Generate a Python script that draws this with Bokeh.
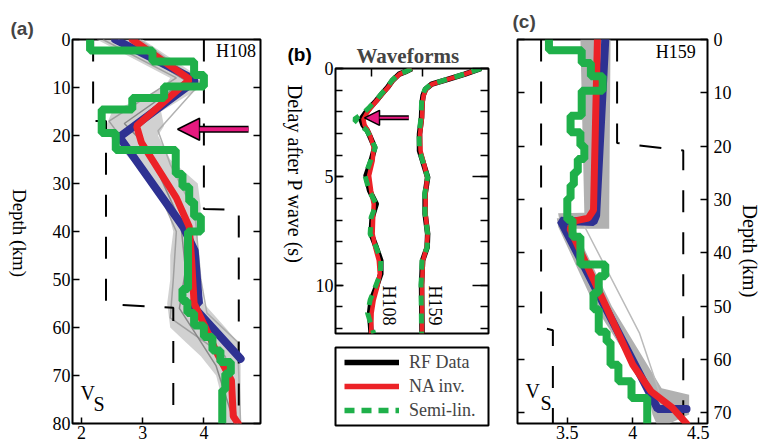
import math
from bokeh.plotting import figure
from bokeh.layouts import row, column
from bokeh.models import (Range1d, FixedTicker, SingleIntervalTicker, LinearAxis,
                          Label, Arrow, NormalHead, Legend, LegendItem)
from bokeh.embed import file_html
from bokeh.resources import INLINE

SERIF = "Liberation Serif"
SANS = "Liberation Sans"
BLUE = "#2e3192"
RED = "#ec2227"
GREEN = "#1fb04a"
MAGENTA = "#e6197f"

# ---------------- panel (a) : H108 ----------------
a_blue_v = [2.55, 3.87, 2.62, 3.67, 3.85, 3.92, 3.78, 4.60]
a_blue_d = [0, 8.5, 20.3, 39.2, 44, 55, 55, 66.5]
a_red_v = [2.83, 3.77, 2.90, 2.98, 3.55, 3.76, 3.80, 3.84, 4.05, 4.22, 4.45, 4.48, 4.56]
a_red_d = [0, 8.3, 18, 21.5, 33, 39, 46, 55, 60.7, 65.5, 71, 78.5, 80]
a_semi_v = [2.14, 3.16, 3.84, 4.00, 3.35, 2.83, 2.33, 2.56, 3.54, 3.65, 3.76, 3.84, 3.95,
            3.74, 3.65, 3.73, 3.84, 4.00, 4.14, 4.27, 4.44, 4.35, 4.30]
a_semi_top = [0, 2.3, 4.6, 7.4, 9.8, 12.2, 14.6, 19.5, 23.0, 28.0, 30.7, 33.8, 36.9,
              40.0, 52.0, 54.5, 57.0, 59.6, 62.0, 64.8, 67.2, 69.6, 73.0]
a_env_d = [0, 8, 10, 15, 18, 20, 25, 30, 35, 40, 45, 50, 55, 60, 63, 66, 70, 75, 80]
a_env_lo = [2.25, 3.45, 3.35, 2.5, 2.4, 2.45, 2.8, 3.15, 3.4, 3.5, 3.45, 3.45, 3.4, 3.45, 3.7, 3.95, 4.2, 4.3, 4.35]
a_env_hi = [3.0, 3.95, 3.95, 3.3, 3.35, 3.25, 3.45, 3.9, 3.95, 3.9, 3.9, 3.9, 4.0, 4.35, 4.55, 4.6, 4.6, 4.6, 4.6]
a_g1_v = [2.35, 3.55, 2.45, 3.20, 3.55, 3.50, 3.45, 4.35, 4.55]
a_g1_d = [0, 8, 17, 30, 40, 50, 58, 66, 80]
a_g2_v = [2.95, 3.95, 3.25, 3.45, 3.85, 3.95, 4.05, 4.55, 4.60]
a_g2_d = [0, 9, 19, 26, 36, 50, 57, 63, 80]
a_g3_v = [2.60, 3.70, 2.70, 3.05, 3.62, 3.70, 3.60, 4.20, 4.50]
a_g3_d = [0, 8.5, 17.5, 22, 38, 48, 56, 68, 80]
a_lo_v = [2.19, 2.19, 2.40, 2.40, 3.50, 3.50]
a_lo_d = [0, 17, 17, 55.1, 55.9, 80]
a_hi_v = [4.00, 4.00, 4.57, 4.57]
a_hi_d = [0, 35.3, 35.5, 80]
a_arrow = [4.73, 3.57, 18.7]          # tail v, tip v, depth

# ---------------- panel (b) : waveforms ----------------
t108 = [0.0, 0.12, 0.26, 0.55, 0.88, 1.2, 1.49, 1.8, 2.05, 2.35, 2.6, 2.85, 3.1, 3.65, 4.26,
        4.95, 5.64, 6.26, 6.88, 7.64, 8.26, 8.87, 9.49, 10.1, 10.7, 11.3, 12.24]
rf108 = [0.80, 0.70, 0.55, 0.42, 0.32, 0.20, 0.10, -0.02, -0.11, -0.20, -0.16, -0.08, -0.03, 0.07, 0.0,
         -0.10, -0.03, 0.10, 0.02, 0.0, 0.10, 0.19, 0.19, 0.10, 0.0, -0.03, 0.0]
na108 = [0.80, 0.70, 0.56, 0.43, 0.33, 0.21, 0.11, 0.0, -0.08, -0.15, -0.13, -0.07, -0.02, 0.05, 0.03,
         -0.04, 0.0, 0.05, 0.04, 0.03, 0.08, 0.15, 0.17, 0.12, 0.05, 0.01, 0.0]
sl108 = [0.79, 0.70, 0.54, 0.41, 0.31, 0.19, 0.09, -0.04, -0.15, -0.33, -0.22, -0.09, -0.03, 0.08, -0.01,
         -0.12, -0.04, 0.10, 0.0, -0.02, 0.10, 0.19, 0.18, 0.08, -0.02, -0.07, 0.05]
t159 = [0.0, 0.26, 0.49, 0.72, 0.95, 1.25, 1.6, 2.26, 3.03, 3.8, 4.41, 5.03, 5.8, 6.72, 7.64, 8.26,
        8.87, 10.0, 12.24]
rf159 = [1.16, 0.84, 0.52, 0.19, 0.07, 0.02, 0.0, -0.01, -0.05, -0.05, 0.03, 0.11, 0.06, 0.06, 0.11,
         0.10, 0.01, -0.01, 0.0]
na159 = [1.15, 0.84, 0.52, 0.20, 0.08, 0.03, 0.01, 0.0, -0.04, -0.03, 0.04, 0.10, 0.07, 0.07, 0.11,
         0.09, 0.02, 0.0, 0.0]
sl159 = [1.16, 0.83, 0.51, 0.18, 0.06, 0.01, -0.01, -0.02, -0.06, -0.05, 0.03, 0.11, 0.05, 0.06, 0.11,
         0.10, 0.0, -0.02, -0.01]
trace_offsets = [0.0, 1.0]
trace_names = ["H108", "H159"]
b_arrow = [0.74, -0.13, 2.28]
legend_labels = ["RF Data", "NA inv.", "Semi-lin."]

# ---------------- panel (c) : H159 ----------------
c_blue_v = [3.79, 3.72, 3.70, 3.45, 4.17, 4.19, 4.41]
c_blue_d = [0, 33.0, 34.2, 34.0, 68.3, 69.3, 69.3]
c_red_v = [3.73, 3.70, 3.66, 3.56, 3.52, 3.77, 4.00, 4.14, 4.30, 4.41]
c_red_d = [0, 32.0, 33.5, 34.0, 35.5, 48.7, 61.0, 66.0, 69.0, 72.0]
c_semi_v = [3.36, 3.61, 3.68, 3.77, 3.61, 3.525, 3.60, 3.63, 3.58, 3.55, 3.525, 3.50, 3.54,
            3.60, 3.79, 3.74, 3.70, 3.74, 3.80, 3.83, 3.89, 3.99, 4.11]
c_semi_top = [0, 2.0, 4.4, 6.9, 9.6, 14.3, 17.4, 19.9, 22.4, 24.9, 27.3, 29.8, 33.8,
              37.0, 42.2, 44.4, 47.5, 50.6, 54.8, 56.7, 61.0, 64.1, 67.2]
c_up_d = [0, 32.5, 32.6, 35.5]
c_up_lo = [3.60, 3.63, 3.43, 3.45]
c_up_hi = [3.83, 3.82, 3.82, 3.82]
c_dn_d = [33.5, 35.1, 50, 65.4, 66.6, 70.3, 72]
c_dn_lo = [3.42, 3.43, 3.71, 4.11, 4.12, 4.15, 4.18]
c_dn_hi = [3.52, 3.55, 3.84, 4.22, 4.43, 4.43, 4.28]
c_g1_v = [3.62, 4.05, 4.20]
c_g1_d = [34.5, 55, 66]
c_lo_v = [3.30, 3.30, 3.39, 3.39]
c_lo_d = [0, 54.0, 54.5, 72]
c_hi_v = [3.88, 3.88, 4.385, 4.385]
c_hi_d = [0, 19.4, 20.8, 72]


def step_path(vals, tops, bottom):
    xs, ys = [], []
    for i, v in enumerate(vals):
        bot = tops[i + 1] if i + 1 < len(tops) else bottom
        xs += [v, v]
        ys += [tops[i], bot]
    return xs, ys


def style_axis(ax, labels=True, tick_in=7, minor_in=0):
    ax.axis_line_color = None
    ax.major_tick_in = tick_in
    ax.major_tick_out = 0
    ax.minor_tick_in = minor_in
    ax.minor_tick_out = 0
    ax.major_tick_line_width = 1.5
    ax.minor_tick_line_width = 1.5
    ax.major_tick_line_color = "black"
    ax.minor_tick_line_color = "black" if minor_in else None
    ax.major_label_text_font = SERIF
    ax.major_label_text_color = "black"
    if labels:
        ax.major_label_text_font_size = "18px"
        ax.major_label_standoff = 2
    else:
        ax.major_label_text_font_size = "1px"
        ax.major_label_text_alpha = 0
        ax.major_label_standoff = 0


def frame_style(p):
    p.outline_line_color = "black"
    p.outline_line_width = 2
    p.outline_line_alpha = 1
    p.xgrid.visible = False
    p.ygrid.visible = False
    p.background_fill_color = "white"
    p.border_fill_color = "white"


def add_label(p, x, y, text, size="19px", font=SERIF, style="normal", angle=0,
              align="left", baseline="alphabetic"):
    p.add_layout(Label(x=x, y=y, text=text, text_font=font, text_font_size=size,
                       text_font_style=style, angle=angle, text_align=align,
                       text_baseline=baseline, text_color="black"))


def add_arrow(p, x0, x1, y, head, shaft):
    p.add_layout(Arrow(end=NormalHead(size=head, fill_color=MAGENTA, line_color="black", line_width=1.5),
                       x_start=x0, y_start=y, x_end=x1, y_end=y,
                       line_color="black", line_width=shaft))
    p.add_layout(Arrow(end=NormalHead(size=head, fill_alpha=0, line_alpha=0),
                       x_start=x0, y_start=y, x_end=x1, y_end=y,
                       line_color=MAGENTA, line_width=shaft - 3))


def label_fig(x0, x1):
    # a narrow blank strip whose data units are page pixels (frame spans page y 38..423)
    f = figure(width=x1 - x0, height=448, x_range=Range1d(x0, x1), y_range=Range1d(423, 38),
               output_backend="svg", toolbar_location=None,
               min_border_left=0, min_border_right=0, min_border_top=38, min_border_bottom=25)
    f.outline_line_color = None
    f.xaxis.visible = False
    f.yaxis.visible = False
    f.xgrid.visible = False
    f.ygrid.visible = False
    return f


# ======== outside-text strips ========
la = label_fig(0, 40)
la.title.text = "(a)"
la.title.align = "left"
la.title.offset = 10
la.title.standoff = 2
la.title.text_font = SANS
la.title.text_font_size = "19px"
la.title.text_font_style = "bold"
add_label(la, 19, 232, "Depth (km)", size="19px", angle=-math.pi / 2, align="center", baseline="middle")

lb = label_fig(280, 312)
add_label(lb, 287, 53, "(b)", size="19px", font=SANS, style="bold")
add_label(lb, 294, 173, "Delay after P wave (s)", size="20px", angle=-math.pi / 2,
          align="center", baseline="middle")

lc_strip = label_fig(735, 760)
add_label(lc_strip, 749, 250, "Depth (km)", size="20px", angle=-math.pi / 2, align="center", baseline="middle")

# ======== figure (a) ========
pa = figure(width=240, height=448, x_range=Range1d(1.853, 4.925), y_range=Range1d(80, 0),
            output_backend="svg", toolbar_location=None,
            min_border_left=32, min_border_right=20, min_border_top=38, min_border_bottom=25)
frame_style(pa)
pa.xaxis.ticker = FixedTicker(ticks=[2, 3, 4])
pa.yaxis.ticker = SingleIntervalTicker(interval=10, num_minor_ticks=0)
style_axis(pa.xaxis[0], tick_in=6)
style_axis(pa.yaxis[0])
ra = LinearAxis(ticker=SingleIntervalTicker(interval=10, num_minor_ticks=0))
style_axis(ra, labels=False)
pa.add_layout(ra, "right")

pa.harea(x1=a_env_lo, x2=a_env_hi, y=a_env_d, fill_color="#cccccc", fill_alpha=0.9)
for gv, gd, col in [(a_g1_v, a_g1_d, "#9a9a9a"), (a_g2_v, a_g2_d, "#a8a8a8"), (a_g3_v, a_g3_d, "#808080")]:
    pa.line(gv, gd, line_color=col, line_width=1.5, line_alpha=0.9)
pa.line(a_lo_v, a_lo_d, line_color="black", line_width=2, line_dash="22 20")
pa.line(a_hi_v, a_hi_d, line_color="black", line_width=2, line_dash="22 20")
pa.line(a_blue_v, a_blue_d, line_color=BLUE, line_width=8, line_cap="round")
pa.line(a_red_v, a_red_d, line_color=RED, line_width=7, line_cap="round")
sx, sy = step_path(a_semi_v, a_semi_top, 80)
pa.line(sx, sy, line_color=GREEN, line_width=8)
add_arrow(pa, a_arrow[0], a_arrow[1], a_arrow[2], 22, 7)
add_label(pa, 4.85, 0.4, trace_names[0], size="18px", align="right", baseline="top")
add_label(pa, 1.984, 71.3, "V", size="20px", baseline="top")
add_label(pa, 2.196, 73.6, "S", size="20px", baseline="top")

# ======== figure (b) ========
pb = figure(width=193, height=340, x_range=Range1d(-0.70, 2.305), y_range=Range1d(12.24, 0),
            output_backend="svg", toolbar_location=None, x_axis_location="above",
            title="Waveforms",
            min_border_left=20, min_border_right=17, min_border_top=68, min_border_bottom=7)
frame_style(pb)
pb.title.align = "left"
pb.title.offset = 21
pb.title.standoff = 2
pb.title.text_font = SERIF
pb.title.text_font_size = "21px"
pb.title.text_font_style = "bold"
pb.xaxis.ticker = FixedTicker(ticks=trace_offsets)
style_axis(pb.xaxis[0], labels=False, tick_in=8)
pb.yaxis.ticker = SingleIntervalTicker(interval=5, num_minor_ticks=5)
style_axis(pb.yaxis[0], tick_in=8, minor_in=7)
rb = LinearAxis(ticker=SingleIntervalTicker(interval=5, num_minor_ticks=5))
style_axis(rb, labels=False, tick_in=16, minor_in=8)
pb.add_layout(rb, "right")

# legend box as its own small figure (legend glyphs drawn from the same trace data, out of view)
pl = figure(width=193, height=108, x_range=Range1d(10, 11), y_range=Range1d(0, 1),
            output_backend="svg", toolbar_location=None,
            min_border_left=20, min_border_right=17, min_border_top=7, min_border_bottom=23)
frame_style(pl)
pl.xaxis.visible = False
pl.yaxis.visible = False

leg_items = []
for off, rf, na, sl, tt in [(trace_offsets[0], rf108, na108, sl108, t108),
                            (trace_offsets[1], rf159, na159, sl159, t159)]:
    pb.line([v + off for v in rf], tt, line_color="black", line_width=5.5, line_join="round")
    pb.line([v + off for v in na], tt, line_color=RED, line_width=4.5, line_join="round")
    pb.line([v + off for v in sl], tt, line_color=GREEN, line_width=5, line_dash="10 8")
    if not leg_items:
        l1 = pl.line([v + off for v in rf], tt, line_color="black", line_width=5.5)
        l2 = pl.line([v + off for v in na], tt, line_color=RED, line_width=5.5)
        l3 = pl.line([v + off for v in sl], tt, line_color=GREEN, line_width=5.5, line_dash="10 7")
        leg_items = [LegendItem(label=legend_labels[0], renderers=[l1]),
                     LegendItem(label=legend_labels[1], renderers=[l2]),
                     LegendItem(label=legend_labels[2], renderers=[l3])]

add_arrow(pb, b_arrow[0], b_arrow[1], b_arrow[2], 15, 5)
add_label(pb, 0.36, 10.95, trace_names[0], size="18px", angle=-math.pi / 2, align="center", baseline="middle")
add_label(pb, 1.25, 10.95, trace_names[1], size="18px", angle=-math.pi / 2, align="center", baseline="middle")

legend = Legend(items=leg_items, location="left", orientation="vertical",
                label_text_font=SERIF, label_text_font_size="18px",
                glyph_width=55, glyph_height=24, label_height=24,
                label_standoff=10, padding=0, spacing=0, margin=9,
                border_line_color=None, background_fill_alpha=0)
pl.add_layout(legend, "center")

# ======== figure (c) ========
pc = figure(width=230, height=448, x_range=Range1d(3.12, 4.57), y_range=Range1d(72, 0),
            output_backend="svg", toolbar_location=None, y_axis_location="right",
            title="(c)",
            min_border_left=12, min_border_right=28, min_border_top=38, min_border_bottom=24)
frame_style(pc)
pc.title.align = "left"
pc.title.offset = -5
pc.title.standoff = 16
pc.title.text_font = SANS
pc.title.text_font_size = "19px"
pc.title.text_font_style = "bold"
pc.xaxis.ticker = FixedTicker(ticks=[3.5, 4, 4.5])
pc.yaxis.ticker = SingleIntervalTicker(interval=10, num_minor_ticks=0)
style_axis(pc.xaxis[0], tick_in=6)
style_axis(pc.yaxis[0])
pc.yaxis[0].major_label_standoff = 6
lc = LinearAxis(ticker=SingleIntervalTicker(interval=10, num_minor_ticks=0))
style_axis(lc, labels=False)
pc.add_layout(lc, "left")

pc.harea(x1=c_up_lo, x2=c_up_hi, y=c_up_d, fill_color="#a9a9a9", fill_alpha=0.9)
pc.harea(x1=c_dn_lo, x2=c_dn_hi, y=c_dn_d, fill_color="#a9a9a9", fill_alpha=0.9)
pc.line(c_g1_v, c_g1_d, line_color="#bbbbbb", line_width=1.5)
pc.line(c_lo_v, c_lo_d, line_color="black", line_width=2, line_dash="22 20")
pc.line(c_hi_v, c_hi_d, line_color="black", line_width=2, line_dash="22 20")
pc.line(c_blue_v, c_blue_d, line_color=BLUE, line_width=8, line_cap="round")
pc.line(c_red_v, c_red_d, line_color=RED, line_width=7, line_cap="round")
sx, sy = step_path(c_semi_v, c_semi_top, 72)
pc.line(sx, sy, line_color=GREEN, line_width=8)
add_label(pc, 4.48, 0.4, trace_names[1], size="18px", align="right", baseline="top")
add_label(pc, 3.181, 63.8, "V", size="20px", baseline="top")
add_label(pc, 3.296, 66.0, "S", size="20px", baseline="top")

layout = row(la, pa, lb, column(pb, pl), pc, lc_strip)
open("out.html", "w").write(file_html(layout, INLINE))
